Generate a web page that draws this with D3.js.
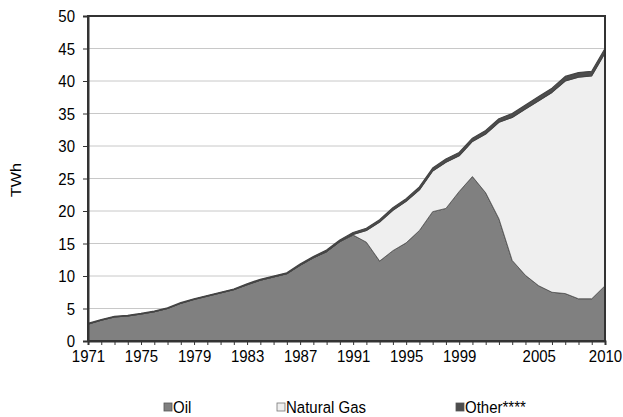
<!DOCTYPE html>
<html><head><meta charset="utf-8">
<script src="https://cdn.jsdelivr.net/npm/d3@7"></script>
<style>body{margin:0;background:#fff}svg{display:block}text{font-family:"Liberation Sans",Arial,sans-serif;fill:#000}</style>
</head><body><svg id="c" width="623" height="417"></svg>
<script>
const years = d3.range(1971, 2011);
const oil = [2.6,3.2,3.7,3.85,4.15,4.5,5.0,5.8,6.4,6.9,7.4,7.9,8.65,9.35,9.85,10.35,11.65,12.8,13.75,15.3,16.3,15.2,12.3,13.9,15.1,17.0,19.9,20.4,23.0,25.3,22.8,18.8,12.4,10.1,8.5,7.5,7.3,6.5,6.5,8.5];
const gas = [0,0,0,0,0,0,0,0,0,0,0,0,0,0,0,0,0,0,0,0,0.1,1.8,6.0,6.2,6.4,6.25,6.25,7.1,5.5,5.4,9.05,14.85,22.0,25.6,28.45,30.75,32.7,34.1,34.3,35.8];
const other = [0.1,0.1,0.1,0.1,0.1,0.1,0.1,0.1,0.1,0.1,0.1,0.1,0.15,0.15,0.15,0.15,0.2,0.2,0.25,0.25,0.3,0.35,0.35,0.4,0.4,0.45,0.45,0.5,0.5,0.5,0.55,0.55,0.6,0.6,0.65,0.65,0.7,0.7,0.7,0.7];
const seriesNames = ["Oil","Natural Gas","Other****"];
const yTicks = [0,5,10,15,20,25,30,35,40,45,50];
const xLabels = [1971,1975,1979,1983,1987,1991,1995,1999,2005,2010];

const fills = ["#808080","#efefef","#4d4d4d"];
const strokes = ["#2a2a2a","#555","#444"];
const svg = d3.select("#c");
const m = {l:88, r:605, t:16, b:341};
const x = d3.scalePoint().domain(years).range([m.l, m.r]).padding(0);
const y = d3.scaleLinear().domain([0,50]).range([m.b, m.t]);

const rows = years.map((yr,i)=>({year:yr, oil:oil[i], gas:gas[i], other:other[i]}));
const stack = d3.stack().keys(["oil","gas","other"])(rows);

// gridlines
svg.append("g").selectAll("line").data(yTicks.filter(v=>v>0&&v<50)).join("line")
  .attr("x1",m.l).attr("x2",m.r).attr("y1",d=>y(d)).attr("y2",d=>y(d))
  .attr("stroke","#c8c8c8").attr("stroke-width",1);

const area = d3.area().x(d=>x(d.data.year)).y0(d=>y(d[0])).y1(d=>y(d[1]));
svg.append("g").selectAll("path").data(stack).join("path")
  .attr("d",area).attr("fill",(d,i)=>fills[i]).attr("stroke",(d,i)=>strokes[i])
  .attr("stroke-width",(d,i)=>i===2?1.2:0.8).attr("stroke-linejoin","round");

// frame
svg.append("rect").attr("x",m.l).attr("y",m.t).attr("width",m.r-m.l).attr("height",m.b-m.t)
  .attr("fill","none").attr("stroke","#333").attr("stroke-width",2);

const SY = 1.15;
// y axis
const ya = svg.append("g").attr("transform",`translate(${m.l},0)`)
  .call(d3.axisLeft(y).tickValues(yTicks).tickSize(5).tickPadding(8));
ya.select(".domain").attr("stroke","#333").attr("stroke-width",2);
ya.selectAll(".tick line").attr("stroke","#333");
ya.selectAll("text").attr("font-size",15).attr("font-family","Liberation Sans, Arial, sans-serif")
  .attr("fill","#000").attr("transform",`scale(1,${SY})`);

// x axis
const xa = svg.append("g").attr("transform",`translate(0,${m.b})`)
  .call(d3.axisBottom(x).tickValues(years).tickSize(4).tickPadding(4)
    .tickFormat(d=>xLabels.includes(d)?String(d):""));
xa.select(".domain").attr("stroke","#333").attr("stroke-width",2);
xa.selectAll(".tick line").attr("stroke","#333");
xa.selectAll("text").attr("font-size",15).attr("font-family","Liberation Sans, Arial, sans-serif")
  .attr("fill","#000").attr("transform",`scale(1,${SY})`);

// y title
svg.append("text").attr("transform",`translate(21,180) rotate(-90) scale(${SY},1)`)
  .attr("text-anchor","middle").attr("font-size",14).text("TWh");

// legend
const lx = [164, 277, 456];
const lg = svg.append("g").selectAll("g").data(seriesNames).join("g")
  .attr("transform",(d,i)=>`translate(${lx[i]},403)`);
lg.append("rect").attr("width",8).attr("height",8).attr("fill",(d,i)=>fills[i])
  .attr("stroke",(d,i)=>i===1?"#777":"#555").attr("stroke-width",0.8);
lg.append("text").attr("x",9).attr("y",4).attr("dy","0.35em").attr("font-size",15)
  .attr("transform",`translate(0,4) scale(1,${SY}) translate(0,-4)`).text(d=>d);
</script></body></html>
